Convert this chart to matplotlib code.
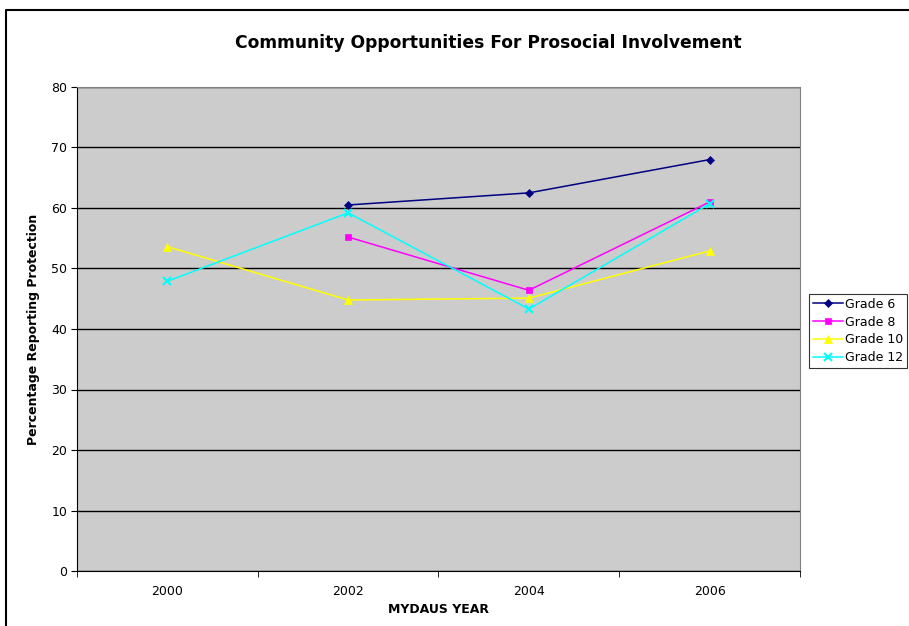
import matplotlib
matplotlib.use("Agg")
import matplotlib.pyplot as plt
import numpy as np
from matplotlib.lines import Line2D

years = ["2000", "2002", "2004", "2006"]
grade6 = [np.nan, 60.5, 62.5, 68.0]
grade8 = [np.nan, 55.2, 46.4, 61.0]
grade10 = [53.6, 44.8, 45.1, 52.9]
grade12 = [47.9, 59.2, 43.3, 60.7]

series = [
    ("Grade 6", grade6, "#000080", "D", 4.5),
    ("Grade 8", grade8, "#FF00FF", "s", 5),
    ("Grade 10", grade10, "#FFFF00", "^", 5.5),
    ("Grade 12", grade12, "#00FFFF", "x", 6),
]

plt.rcParams['font.family'] = ['DejaVu Sans']

fig = plt.figure(figsize=(9.09, 6.26), dpi=100)
W, H = 909, 626
ax = fig.add_axes([77 / W, (H - 571) / H, 723 / W, 484 / H])
ax.set_facecolor("#CCCCCC")

x = np.arange(len(years))
for name, vals, col, mk, ms in series:
    ax.plot(x, vals, color=col, marker=mk, markersize=ms, linewidth=1.1,
            markeredgewidth=1.5 if mk == "x" else 0.5, label=name)

ax.set_xlim(-0.5, 3.5)
ax.set_ylim(0, 80)
ax.set_yticks(np.arange(0, 81, 10))
ax.yaxis.grid(True, color="black", linewidth=1)
ax.set_axisbelow(True)

ax.set_xticks(x)
ax.set_xticklabels(years)
ax.set_xticks(np.arange(-0.5, 3.6, 1), minor=True)
ax.tick_params(axis="x", which="major", length=0, pad=10, labelsize=9)
ax.tick_params(axis="x", which="minor", length=4, direction="out")
ax.tick_params(axis="y", length=4, direction="out", labelsize=9, pad=3)

for side in ["top", "right"]:
    ax.spines[side].set_color("#808080")
ax.spines["left"].set_color("black")
ax.spines["bottom"].set_color("black")

ax.set_xlabel("MYDAUS YEAR", fontsize=9, fontweight="bold", labelpad=4)
ax.set_ylabel("Percentage Reporting Protection", fontsize=9, fontweight="bold", labelpad=8)
fig.text(488 / W, 1 - 43 / H, "Community Opportunities For Prosocial Involvement",
         ha="center", va="center", fontsize=12.3, fontweight="bold")

leg = ax.legend(loc="upper left", bbox_to_anchor=(809 / W, 1 - 294 / H),
                bbox_transform=fig.transFigure, fontsize=9, frameon=True,
                fancybox=False, edgecolor="black", borderpad=0.3,
                labelspacing=0.38, handlelength=2.4, handletextpad=0.2,
                borderaxespad=0)
leg.get_frame().set_linewidth(0.8)

# chart border, open to the right and bottom
fig.add_artist(Line2D([6 / W, 6 / W, 1.0], [0.0, 1 - 10 / H, 1 - 10 / H],
                      transform=fig.transFigure, color="black", linewidth=1.5))

fig.savefig("out.png", dpi=100)
